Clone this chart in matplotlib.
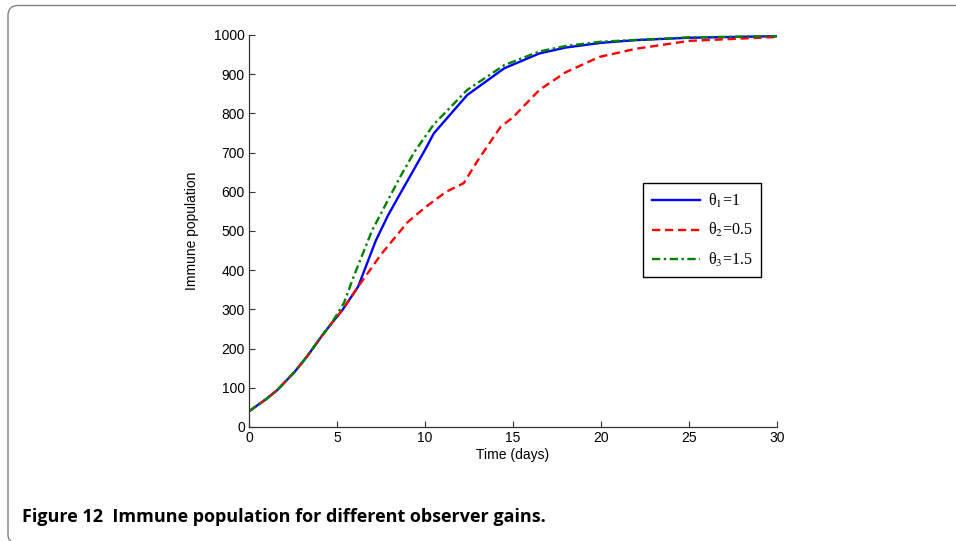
import numpy as np
import matplotlib.pyplot as plt
from matplotlib.path import Path
from matplotlib.patches import PathPatch

# values
t_blue = [0, 1, 1.6, 2.6, 3.3, 4.1, 4.7, 5.3, 6.2, 7.2, 7.9, 8.6, 10.0, 10.5, 12.4, 14.5, 16.5, 18, 20, 22, 25, 30]
y_blue = [40, 72, 94, 141, 180, 230, 265, 298, 358, 475, 540, 596, 707, 749, 847, 915, 953, 968, 980, 987, 993, 997]

t_red = [0, 1, 1.6, 2.6, 3.3, 4.1, 4.7, 5.3, 6.2, 7.5, 9.0, 10.0, 11.2, 12.2, 13.0, 14.3, 15.0, 16.5, 18, 19.9, 22, 25, 30]
y_red = [40, 72, 94, 141, 180, 230, 265, 298, 358, 440, 522, 560, 600, 622, 680, 766, 790, 860, 905, 944, 965, 985, 995]

t_green = [0, 1, 1.6, 2.6, 3.3, 4.1, 4.7, 5.4, 6.0, 7.0, 8.6, 9.4, 10.5, 12.4, 14.5, 16.5, 18, 20, 25, 30]
y_green = [40, 72, 94, 141, 180, 230, 265, 317, 390, 502, 639, 702, 772, 860, 923, 958, 972, 983, 994, 997]

labels = ['θ$_1$=1', 'θ$_2$=0.5', 'θ$_3$=1.5']

plt.rcParams['font.family'] = 'Liberation Sans'
plt.rcParams['mathtext.fontset'] = 'stix'

fig = plt.figure(figsize=(9.56, 5.41), dpi=100)

# rounded frame (open on the right and bottom) around the figure, in pixels
W, H = 956.0, 541.0
verts = [(W, 5.5), (18, 5.5), (8, 5.5), (8, 15.5),
         (8, 534), (8, 540.5), (11, 540.5)]
codes = [Path.MOVETO, Path.LINETO, Path.CURVE3, Path.CURVE3,
         Path.LINETO, Path.CURVE3, Path.CURVE3]
verts = [(vx / W, 1 - vy / H) for vx, vy in verts]
frame = PathPatch(Path(verts, codes), transform=fig.transFigure, fill=False,
                  edgecolor='#808080', linewidth=1.0)
fig.patches.append(frame)

ax = fig.add_axes([249 / 956, 114 / 541, 528 / 956, 392 / 541])
ax.plot(t_blue, y_blue, color='#0000ff', lw=1.7, label=labels[0])
ax.plot(t_red, y_red, color='#ff0000', lw=1.7, ls=(0, (3.5, 2)), label=labels[1])
ax.plot(t_green, y_green, color='#008000', lw=1.7, ls=(0, (3.5, 1.5, 1, 1.5)), label=labels[2])

ax.set_xlim(0, 30)
ax.set_ylim(0, 1000)
ax.set_xticks(np.arange(0, 31, 5))
ax.set_yticks(np.arange(0, 1001, 100))
ax.spines['top'].set_visible(False)
ax.spines['right'].set_visible(False)
for s in ['left', 'bottom']:
    ax.spines[s].set_color('#333333')
    ax.spines[s].set_linewidth(0.9)
ax.tick_params(direction='in', length=4, width=0.8, labelsize=10, colors='#333333',
               labelcolor='black', pad=3)
ax.set_xlabel('Time (days)', fontsize=10, labelpad=2)
ax.set_ylabel('Immune population', fontsize=10, labelpad=11)

leg = ax.legend(loc='upper left', bbox_to_anchor=(0.746, 0.622), borderaxespad=0,
                prop={'family': 'Liberation Serif', 'size': 11.5},
                fancybox=False, edgecolor='black', framealpha=1,
                handlelength=3.0, handletextpad=0.5, labelspacing=0.7,
                borderpad=0.55)
leg.get_frame().set_linewidth(1.0)

fig.text(22 / 956, 1 - 517 / 541, 'Figure 12  Immune population for different observer gains.',
         fontsize=13, fontweight='bold', family='Open Sans', va='center', ha='left')

fig.savefig('out.png', dpi=100)
